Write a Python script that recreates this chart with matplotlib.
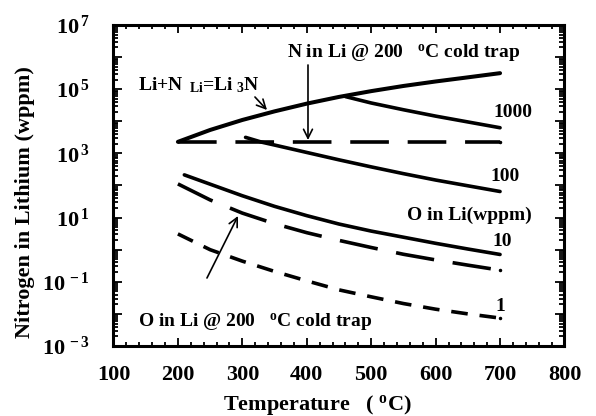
import matplotlib.pyplot as plt
from matplotlib.ticker import LogLocator, MultipleLocator, FuncFormatter, NullFormatter
import numpy as np

plt.rcParams['font.family'] = 'Liberation Serif'
plt.rcParams['font.weight'] = 'bold'
plt.rcParams['mathtext.fontset'] = 'custom'
plt.rcParams['mathtext.rm'] = 'Liberation Serif:bold'
plt.rcParams['mathtext.it'] = 'Liberation Serif:bold'
plt.rcParams['mathtext.bf'] = 'Liberation Serif:bold'

# Li3N formation limit (solubility of N in Li)
temp_nitride = [200, 250, 300, 350, 400, 450, 500, 550, 600, 650, 700]
n_nitride = [2290, 5370, 11000, 20400, 35500, 57500, 87100, 126000, 174000, 234000, 316000]

# N in Li with a 200 C cold trap
temp_trap_n = [200, 700]
n_trap_n = [2290, 2290]

# N in Li for given O levels (wppm)
temp_o1000 = [460, 500, 550, 600, 650, 700]
n_o1000 = [58900, 37200, 22900, 14500, 9550, 6300]

temp_o100 = [305, 330, 350, 400, 450, 500, 550, 600, 650, 700]
n_o100 = [3160, 2240, 1820, 1070, 630, 380, 234, 148, 98, 65]

temp_o10 = [210, 250, 300, 350, 400, 450, 500, 550, 600, 650, 700]
n_o10 = [214, 110, 47.9, 22.4, 11.5, 6.3, 3.8, 2.45, 1.58, 1.05, 0.71]

# O in Li with a 200 C cold trap
temp_trap_o = [200, 250, 300, 350, 400, 450, 500, 550, 600, 650, 700]
n_trap_o = [112, 35.5, 13.8, 6.46, 3.39, 1.95, 1.17, 0.72, 0.48, 0.33, 0.23]

temp_o1 = [200, 250, 300, 350, 400, 450, 500, 550, 600, 650, 700]
n_o1 = [3.1, 1.0, 0.44, 0.21, 0.107, 0.056, 0.034, 0.021, 0.014, 0.010, 0.0074]

fig = plt.figure(figsize=(5.96, 4.16), dpi=100)
ax = fig.add_axes([0.1904, 0.1683, 0.7567, 0.7716])

lw = 2.6
long_dash = (10.7, 5.2)
short_dash = (4.6, 3.3)

ax.plot(temp_nitride, n_nitride, color='black', lw=lw + 0.3, solid_capstyle='round')
ax.plot(temp_trap_n, n_trap_n, color='black', lw=lw, dashes=long_dash,
        marker='o', markevery=[-1], ms=1.5)
ax.plot(temp_o1000, n_o1000, color='black', lw=lw, solid_capstyle='round')
ax.plot(temp_o100, n_o100, color='black', lw=lw, solid_capstyle='round')
ax.plot(temp_o10, n_o10, color='black', lw=lw, solid_capstyle='round')
ax.plot(temp_trap_o, n_trap_o, color='black', lw=lw, dashes=long_dash,
        marker='o', markevery=[-1], ms=1.5)
ax.plot(temp_o1, n_o1, color='black', lw=lw, dashes=short_dash,
        marker='o', markevery=[-1], ms=1.5)

ax.set_xlim(100, 800)
ax.set_yscale('log')
ax.set_ylim(1e-3, 1e7)

ax.xaxis.set_major_locator(MultipleLocator(100))
ax.xaxis.set_minor_locator(MultipleLocator(20))
ax.yaxis.set_major_locator(LogLocator(base=10, numticks=20))
ax.yaxis.set_minor_locator(LogLocator(base=10, subs=np.arange(2, 10), numticks=100))
ax.yaxis.set_minor_formatter(NullFormatter())


def decade_label(v, pos):
    e = int(round(np.log10(v)))
    if e % 2 == 0:
        return ''
    return r'$10^{\,%d}$' % e


ax.yaxis.set_major_formatter(FuncFormatter(decade_label))

ax.tick_params(axis='both', which='both', direction='in', top=True, right=True,
               color='black', width=1.3)
ax.tick_params(axis='x', which='major', length=5.5, pad=14, labelsize=16)
ax.tick_params(axis='x', which='minor', length=3)
ax.tick_params(axis='y', which='major', length=6.5, pad=17, labelsize=16)
ax.tick_params(axis='y', which='minor', length=3.5)
for sp in ax.spines.values():
    sp.set_linewidth(2.2)

fig.text(317 / 596, 1 - 405 / 416, r'Temperature   ( $^{o}$C)', ha='center', va='center',
         fontsize=16, fontweight='bold')
fig.text(25 / 596, 1 - 202 / 416, 'Nitrogen in Lithium (wppm)', ha='center', va='center',
         rotation=90, fontsize=16, fontweight='bold')

fs = 14
ax.text(0.385, 0.913, r'N in Li @ 200   $^{o}$C cold trap', transform=ax.transAxes,
        ha='left', va='center', fontsize=fs)
ax.text(0.054, 0.813, r'Li+N$_{\ \ Li}$=Li$_{\ 3}$N', transform=ax.transAxes,
        ha='left', va='center', fontsize=fs)
ax.text(0.8415, 0.726, '1000', transform=ax.transAxes, ha='left', va='center', fontsize=fs)
ax.text(0.8348, 0.5265, '100', transform=ax.transAxes, ha='left', va='center', fontsize=fs)
ax.text(0.6508, 0.408, 'O in Li(wppm)', transform=ax.transAxes, ha='left', va='center', fontsize=fs)
ax.text(0.8392, 0.324, '10', transform=ax.transAxes, ha='left', va='center', fontsize=fs)
ax.text(0.8459, 0.1215, '1', transform=ax.transAxes, ha='left', va='center', fontsize=fs)
ax.text(0.054, 0.0748, r'O in Li @ 200   $^{o}$C cold trap', transform=ax.transAxes,
        ha='left', va='center', fontsize=fs)

arrow = dict(arrowstyle='->', color='black', lw=1.2, shrinkA=0, shrinkB=0, mutation_scale=16)
ax.annotate('', xy=(0.3404, 0.7352), xytext=(0.3137, 0.7757),
            xycoords='axes fraction', textcoords='axes fraction', arrowprops=arrow)
ax.annotate('', xy=(0.4313, 0.6417), xytext=(0.4313, 0.8754),
            xycoords='axes fraction', textcoords='axes fraction', arrowprops=arrow)
ax.annotate('', xy=(0.2761, 0.405), xytext=(0.2073, 0.2118),
            xycoords='axes fraction', textcoords='axes fraction', arrowprops=arrow)

fig.savefig('out.png', dpi=100)
